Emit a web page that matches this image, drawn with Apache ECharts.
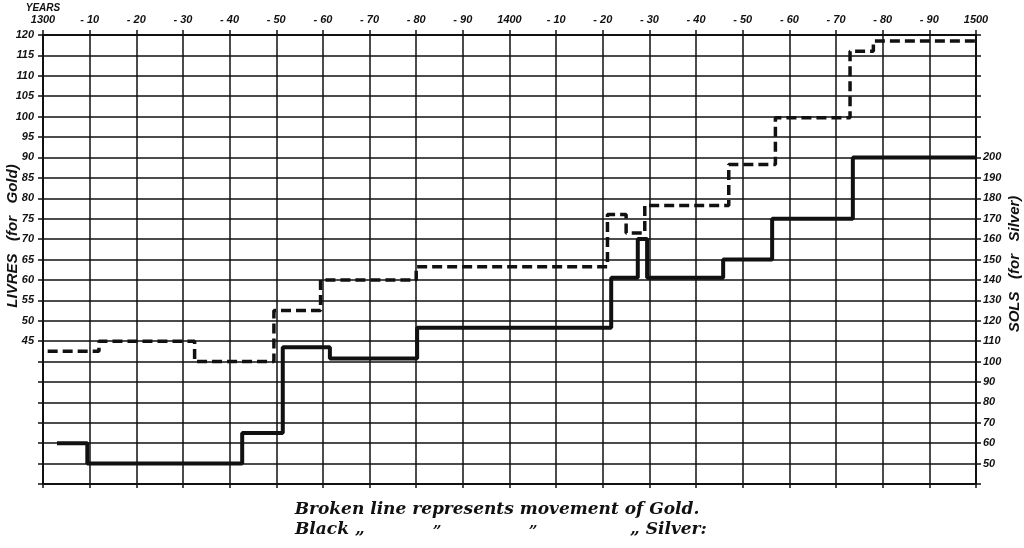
<!DOCTYPE html>
<html>
<head>
<meta charset="utf-8">
<script src="https://cdn.jsdelivr.net/npm/echarts@6/dist/echarts.min.js"></script>
<style>
html,body{margin:0;padding:0;background:#fff;}
#c{width:1024px;height:548px;}
</style>
</head>
<body>
<div id="c"></div>
<script>
// Gold (broken line) — livres, change points (value holds until next year)
const goldYears  = [1301, 1312, 1332.5, 1349.5, 1359.5, 1380, 1421, 1425, 1429, 1447, 1457, 1473, 1478, 1500];
const goldLivres = [42.5, 45,   40,     52.5,   60,     63.25, 76,  71.5, 78.25, 88.25, 99.75, 116, 118.5, 118.5];

// Silver (black line) — sols
const silverYears = [1303, 1309.5, 1342.7, 1351.4, 1361.5, 1380.2, 1421.8, 1427.5, 1429.5, 1445.8, 1456.3, 1473.6, 1500];
const silverSols  = [60,   50,     65,     107,    101.5,  116.5,  141,    160,    141,    150,    170,    200,    200];

// Tick labels along the top (years)
const yearTickLabels = ['1300','- 10','- 20','- 30','- 40','- 50','- 60','- 70','- 80','- 90',
                        '1400','- 10','- 20','- 30','- 40','- 50','- 60','- 70','- 80','- 90','1500'];

const livresLabelMin = 45;
const solsLabelMin = 50, solsLabelMax = 200;

const goldData = goldYears.map((y, i) => [y, goldLivres[i]]);
const silverData = silverYears.map((y, i) => [y, silverSols[i]]);

const ink = '#111';
const tickFont = { fontFamily: 'Liberation Sans', fontStyle: 'italic', fontWeight: 'bold', fontSize: 11, color: ink };

const chart = echarts.init(document.getElementById('c'), null, { renderer: 'canvas' });
chart.setOption({
  animation: false,
  backgroundColor: '#fff',
  grid: { left: 43, right: 48, top: 35, bottom: 64 },
  xAxis: [
    {
      type: 'value', position: 'top', min: 1300, max: 1500, interval: 10,
      axisLine: { show: true, lineStyle: { color: ink, width: 2 } },
      axisTick: { show: true, length: 5, lineStyle: { color: ink, width: 1.5 } },
      axisLabel: Object.assign({ margin: 10, formatter: v => yearTickLabels[Math.round((v - 1300) / 10)] || '' }, tickFont),
      splitLine: { show: true, lineStyle: { color: ink, width: 1.5 } }
    },
    {
      type: 'value', position: 'bottom', min: 1300, max: 1500, interval: 10,
      axisLine: { show: true, lineStyle: { color: ink, width: 2 } },
      axisTick: { show: true, length: 4, lineStyle: { color: ink, width: 1.5 } },
      axisLabel: { show: false },
      splitLine: { show: false }
    }
  ],
  yAxis: [
    {
      type: 'value', position: 'left', min: 10, max: 120, interval: 5,
      axisLine: { show: true, lineStyle: { color: ink, width: 2 } },
      axisTick: { show: true, length: 5, lineStyle: { color: ink, width: 1.5 } },
      axisLabel: Object.assign({ margin: 9, formatter: v => v >= livresLabelMin ? String(v) : '' }, tickFont),
      splitLine: { show: true, lineStyle: { color: ink, width: 1.5 } }
    },
    {
      type: 'value', position: 'right', min: 40, max: 260, interval: 10,
      axisLine: { show: true, lineStyle: { color: ink, width: 2 } },
      axisTick: { show: true, length: 5, lineStyle: { color: ink, width: 1.5 } },
      axisLabel: Object.assign({ margin: 7, formatter: v => (v >= solsLabelMin && v <= solsLabelMax) ? String(v) : '' }, tickFont),
      splitLine: { show: false }
    }
  ],
  series: [
    {
      name: 'Gold', type: 'line', step: 'end', xAxisIndex: 0, yAxisIndex: 0,
      data: goldData, symbol: 'none',
      lineStyle: { color: ink, width: 3.5, type: [10, 5] }
    },
    {
      name: 'Silver', type: 'line', step: 'end', xAxisIndex: 0, yAxisIndex: 1,
      data: silverData, symbol: 'none',
      lineStyle: { color: ink, width: 4 }
    }
  ],
  graphic: [
    { type: 'text', x: 43, y: 8, style: { text: 'YEARS', fontFamily: 'Liberation Sans', fontStyle: 'italic', fontWeight: 'bold', fontSize: 10, fill: ink, align: 'center', verticalAlign: 'middle' } },
    { type: 'text', x: 13, y: 236, rotation: Math.PI / 2, style: { text: 'LIVRES   (for   Gold)', fontFamily: 'Liberation Sans', fontStyle: 'italic', fontWeight: 'bold', fontSize: 15, fill: ink, align: 'center', verticalAlign: 'middle' } },
    { type: 'text', x: 1015, y: 264, rotation: Math.PI / 2, style: { text: 'SOLS   (for   Silver)', fontFamily: 'Liberation Sans', fontStyle: 'italic', fontWeight: 'bold', fontSize: 15, fill: ink, align: 'center', verticalAlign: 'middle' } },
    { type: 'text', x: 497, y: 510, style: { text: 'Broken line represents movement of Gold.', fontFamily: 'DejaVu Serif', fontStyle: 'italic', fontWeight: 'bold', fontSize: 17, fill: ink, align: 'center', verticalAlign: 'middle' } },
    { type: 'text', x: 295, y: 530, style: { text: 'Black \u201E', fontFamily: 'DejaVu Serif', fontStyle: 'italic', fontWeight: 'bold', fontSize: 17, fill: ink, align: 'left', verticalAlign: 'middle' } },
    { type: 'text', x: 437, y: 532, style: { text: '\u201D', fontFamily: 'DejaVu Serif', fontStyle: 'italic', fontWeight: 'bold', fontSize: 15, fill: ink, align: 'center', verticalAlign: 'middle' } },
    { type: 'text', x: 533, y: 532, style: { text: '\u201D', fontFamily: 'DejaVu Serif', fontStyle: 'italic', fontWeight: 'bold', fontSize: 15, fill: ink, align: 'center', verticalAlign: 'middle' } },
    { type: 'text', x: 630, y: 530, style: { text: '\u201E Silver:', fontFamily: 'DejaVu Serif', fontStyle: 'italic', fontWeight: 'bold', fontSize: 17, fill: ink, align: 'left', verticalAlign: 'middle' } }
  ]
});
</script>
</body>
</html>
